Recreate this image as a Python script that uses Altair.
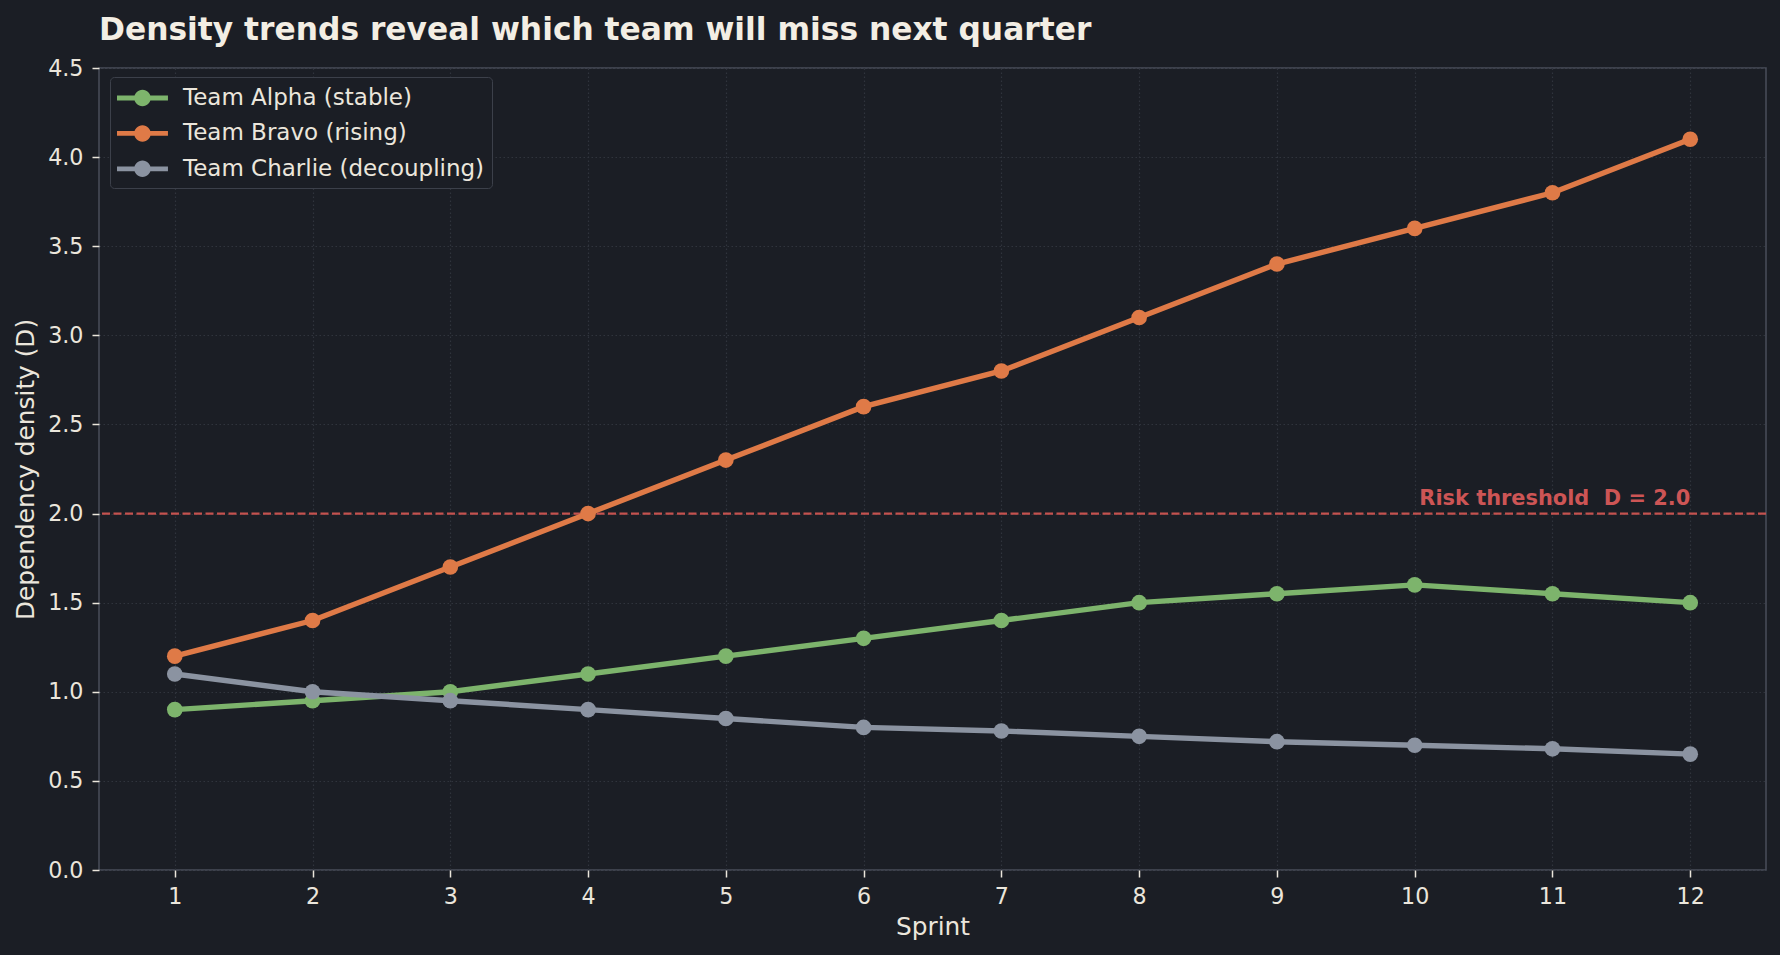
import altair as alt
import pandas as pd

# ---- data ----
sprints = [1, 2, 3, 4, 5, 6, 7, 8, 9, 10, 11, 12]
team_names = ["Team Alpha (stable)", "Team Bravo (rising)", "Team Charlie (decoupling)"]
alpha = [0.9, 0.95, 1.0, 1.1, 1.2, 1.3, 1.4, 1.5, 1.55, 1.6, 1.55, 1.5]
bravo = [1.2, 1.4, 1.7, 2.0, 2.3, 2.6, 2.8, 3.1, 3.4, 3.6, 3.8, 4.1]
charlie = [1.1, 1.0, 0.95, 0.9, 0.85, 0.8, 0.78, 0.75, 0.72, 0.70, 0.68, 0.65]
team_colors = ["#7db46c", "#df7a47", "#8b93a1"]
y_ticks = [0.0, 0.5, 1.0, 1.5, 2.0, 2.5, 3.0, 3.5, 4.0, 4.5]
threshold = 2.0
threshold_label = "Risk threshold\u00a0 D = 2.0"
title_text = "Density trends reveal which team will miss next quarter"

BG = "#1b1e25"
TXT = "#ebe6dc"
FONT = "DejaVu Sans"

rows = []
for name, vals in zip(team_names, [alpha, bravo, charlie]):
    for s, v in zip(sprints, vals):
        rows.append({"sprint": s, "density": v, "team": name})
df = pd.DataFrame(rows)

x_enc = alt.X("sprint:Q",
              scale=alt.Scale(domain=[0.45, 12.55], nice=False, zero=False),
              axis=alt.Axis(values=sprints, format="d", title="Sprint",
                            labelPadding=8, titlePadding=7))
y_enc = alt.Y("density:Q",
              scale=alt.Scale(domain=[0, 4.5], nice=False),
              axis=alt.Axis(values=y_ticks, format=".1f", title="Dependency density (D)",
                            labelPadding=9, titlePadding=9))

legend_path = ("M-1,-0.17L2.64,-0.17L2.64,0.17L-1,0.17Z"
               "M1.41,0A0.59,0.59 0 1,1 0.23,0A0.59,0.59 0 1,1 1.41,0Z")

team_scale = alt.Scale(domain=team_names, range=team_colors)
leg = alt.Legend(title=None, orient="none", legendX=11, legendY=9,
                 symbolType=legend_path, symbolSize=784,
                 symbolStrokeWidth=0, symbolOpacity=1,
                 labelFontSize=23, labelColor=TXT, labelFont=FONT,
                 labelLimit=600, labelOffset=38,
                 fillColor=BG, strokeColor="#3c404a",
                 cornerRadius=4, padding=7, rowPadding=9.4)

lines = alt.Chart(df).mark_line(strokeWidth=5.4).encode(
    x=x_enc, y=y_enc,
    stroke=alt.Stroke("team:N", scale=team_scale, legend=leg),
    order="sprint:Q",
)

points = alt.Chart(df).mark_point(filled=True, size=245, opacity=1).encode(
    x="sprint:Q", y="density:Q",
    fill=alt.Fill("team:N", scale=team_scale, legend=leg),
)

rule = alt.Chart(pd.DataFrame({"y": [threshold]})).mark_rule(
    color="#c4524f", strokeDash=[8, 3.5], strokeWidth=2.2
).encode(y="y:Q")

label = alt.Chart(pd.DataFrame({"x": [sprints[-1]], "y": [threshold], "t": [threshold_label]})).mark_text(
    align="right", baseline="alphabetic", dy=-8.6, fontSize=20.9, fontWeight="bold",
    color="#cd5555", font=FONT
).encode(x="x:Q", y="y:Q", text="t:N")

chart = alt.layer(rule, lines, points, label).properties(
    width=1667, height=802,
    title=alt.TitleParams(title_text, anchor="start", frame="group", fontSize=31.3,
                          fontWeight="bold", color="#f3eee4", font=FONT, offset=24,
                          baseline="alphabetic", dy=38.5),
    background=BG,
    autosize=alt.AutoSizeParams(type="none"),
    padding={"left": 99, "top": 68, "right": 14, "bottom": 85},
).configure_view(
    stroke="#4a4e59", strokeWidth=1.5
).configure_axis(
    domain=False, grid=True, gridColor="#30343d", gridDash=[1.5, 2.5], gridWidth=1.2,
    tickColor=TXT, tickSize=7, tickWidth=1.5,
    labelColor=TXT, labelFont=FONT, labelFontSize=22.2, labelOverlap=False,
    titleColor=TXT, titleFont=FONT, titleFontSize=24.8, titleFontWeight="normal",
)

chart.save("out.html", embed_options={"renderer": "svg", "actions": False})
